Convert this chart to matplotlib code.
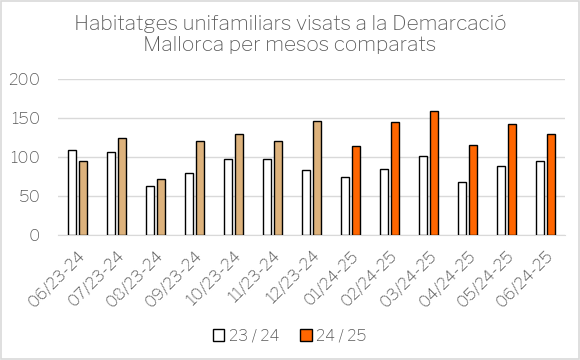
import matplotlib
matplotlib.use("Agg")
import matplotlib.pyplot as plt
import numpy as np
from matplotlib.patches import Patch

categories = ["06/23-24", "07/23-24", "08/23-24", "09/23-24", "10/23-24", "11/23-24",
              "12/23-24", "01/24-25", "02/24-25", "03/24-25", "04/24-25", "05/24-25", "06/24-25"]
prev_values = [109, 106, 63, 79, 97, 97, 83, 75, 84, 101, 68, 88, 95]
curr_values = [95, 124, 72, 120, 130, 121, 146, 114, 145, 159, 116, 142, 130]
n_tan = 7  # first seven 24/25-series bars drawn in tan
legend_labels = ["23 / 24", "24 / 25"]
title = "Habitatges unifamiliars visats a la Demarcació\nMallorca per mesos comparats"

plt.rcParams['font.family'] = ['Libre Franklin', 'Open Sans', 'DejaVu Sans']
plt.rcParams['font.weight'] = 300
text_color = "#595959"

fig = plt.figure(figsize=(5.8, 3.6), dpi=100)
ax = fig.add_axes([58/580, 1-235/360, (565-58)/580, (235-79)/360])

x = np.arange(len(categories))
w = 0.22
off = 0.145
tan = "#DDB27C"
orange = "#FF6600"
colors = [tan if i < n_tan else orange for i in range(len(categories))]
ax.bar(x - off, prev_values, width=w, color="white", edgecolor="black", linewidth=1.0, zorder=3)
ax.bar(x + off, curr_values, width=w, color=colors, edgecolor="black", linewidth=1.0, zorder=3)

ax.set_xlim(-0.5, len(categories) - 0.5)
ax.set_ylim(0, 200)
ax.set_yticks([0, 50, 100, 150, 200])
ax.yaxis.grid(True, color="#d9d9d9", linewidth=1.0, zorder=0)
ax.set_axisbelow(True)
for s in ["top", "right", "left"]:
    ax.spines[s].set_visible(False)
ax.spines["bottom"].set_color("#d9d9d9")
ax.tick_params(axis="both", length=0, colors=text_color, labelsize=12)
ax.tick_params(axis="y", pad=13)
ax.tick_params(axis="x", pad=9)
ax.set_xticks(x)
ax.set_xticklabels(categories, rotation=45, ha="right", rotation_mode="anchor")
for lbl in ax.get_xticklabels() + ax.get_yticklabels():
    lbl.set_fontweight(400)

fig.text(0.5, 0.96, title, ha="center", va="top", fontsize=15, color=text_color,
         linespacing=1.2, multialignment="center")

handles = [Patch(facecolor="white", edgecolor="black", linewidth=1.0),
           Patch(facecolor=orange, edgecolor="black", linewidth=1.0)]
fig.legend(handles, legend_labels, loc="center", bbox_to_anchor=(0.5, 1-336/360), ncol=2,
           frameon=False, prop={'size': 11.5, 'weight': 400}, labelcolor=text_color,
           handlelength=0.7, handleheight=0.7, handletextpad=0.3, columnspacing=1.3)

border = plt.Rectangle((0.002, 0.003), 0.996, 0.994, transform=fig.transFigure, fill=False,
                       edgecolor="#d9d9d9", linewidth=1.2)
fig.add_artist(border)

fig.savefig("out.png", dpi=100)
